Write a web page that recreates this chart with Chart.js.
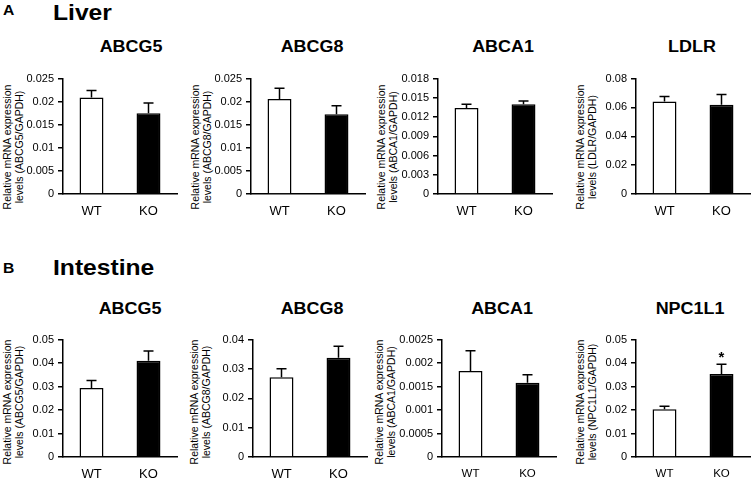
<!DOCTYPE html>
<html>
<head>
<meta charset="utf-8">
<script src="https://cdn.jsdelivr.net/npm/chart.js@4.4.0/dist/chart.umd.min.js"></script>
<style>
    body { margin: 0; background: #fff; font-family: "Liberation Sans", Arial, sans-serif; color: #000; }
    #wrap { position: relative; width: 752px; height: 480px; overflow: hidden; }
    .lbl { position: absolute; font-weight: bold; line-height: 1; white-space: nowrap; transform-origin: left center; transform: scaleX(1.12); }
    .gene { position: absolute; font-weight: bold; font-size: 16px; line-height: 1; white-space: nowrap; transform: translateX(-50%) scaleX(1.12); }
    .ytitle { position: absolute; width: 160px; font-size: 10.5px; line-height: 12px; text-align: center; white-space: nowrap; transform: rotate(-90deg); }
    canvas { position: absolute; }
</style>
</head>
<body>
<div id="wrap">
    <div class="lbl" style="left:3px; top:3px; font-size:14px;">A</div>
    <div class="lbl" style="left:53px; top:2px; font-size:22px;">Liver</div>
    <div class="lbl" style="left:3px; top:261px; font-size:14px;">B</div>
    <div class="lbl" style="left:53px; top:257px; font-size:22px;">Intestine</div>
</div>

<script>
/*********************** Data ************************/
var categories = ['WT', 'KO'];

// A - Liver
var liverGenes = ['ABCG5', 'ABCG8', 'ABCA1', 'LDLR'];
var liverWT = [0.0209, 0.0206, 0.0134, 0.0642];
var liverWTErr = [0.0015, 0.0023, 0.0006, 0.0034];
var liverKO = [0.0175, 0.0173, 0.0140, 0.0619];
var liverKOErr = [0.0022, 0.0018, 0.0005, 0.0071];
var liverMax = [0.025, 0.025, 0.018, 0.08];
var liverStep = [0.005, 0.005, 0.003, 0.02];
var liverSig = ['', '', '', ''];

// B - Intestine
var intGenes = ['ABCG5', 'ABCG8', 'ABCA1', 'NPC1L1'];
var intWT = [0.0294, 0.0272, 0.00183, 0.0203];
var intWTErr = [0.0032, 0.0029, 0.00043, 0.0013];
var intKO = [0.0410, 0.0338, 0.00158, 0.0353];
var intKOErr = [0.0041, 0.0039, 0.00017, 0.0042];
var intMax = [0.05, 0.04, 0.0025, 0.05];
var intStep = [0.01, 0.01, 0.0005, 0.01];
var intSig = ['', '', '', '*'];

/*********************** Layout ************************/
var rows = [
    { chartTop: 76, chartH: 118, titleTop: 39, yTitleY: 147,
      axisX: [63, 251, 438, 636], titleX: [131, 312, 503, 692],
      yTitleOff: [50, 50, 51, 50], xFont: [13, 13, 13, 13] },
    { chartTop: 337, chartH: 120, titleTop: 301, yTitleY: 402,
      axisX: [63, 253, 442, 636], titleX: [130, 312, 502, 690],
      yTitleOff: [50, 53, 57, 50], xFont: [13, 13, 11.5, 11.5] }
];
var yAxisW = 45, plotW = 114, padTop = 8, xAxisH = 30;

Chart.defaults.font.family = '"Liberation Sans", Arial, sans-serif';
Chart.defaults.color = '#000';

// error bars (upper only) + significance mark
var errorBars = {
    id: 'errorBars',
    afterDatasetsDraw: function (chart) {
        var ctx = chart.ctx;
        var ds = chart.data.datasets[0];
        var meta = chart.getDatasetMeta(0);
        var y = chart.scales.y;
        ctx.save();
        ctx.strokeStyle = '#000';
        ctx.lineWidth = 1.5;
        meta.data.forEach(function (bar, i) {
            var top = y.getPixelForValue(ds.data[i] + ds.err[i]);
            ctx.beginPath();
            ctx.moveTo(bar.x, bar.y);
            ctx.lineTo(bar.x, top);
            ctx.moveTo(bar.x - 5, top);
            ctx.lineTo(bar.x + 5, top);
            ctx.stroke();
            if (ds.sig[i]) {
                ctx.fillStyle = '#000';
                ctx.font = 'bold 15px "Liberation Sans", Arial, sans-serif';
                ctx.textAlign = 'center';
                ctx.textBaseline = 'alphabetic';
                ctx.fillText(ds.sig[i], bar.x, top - 2);
            }
        });
        ctx.restore();
    }
};

function makePanel(row, i, gene, wt, wtErr, ko, koErr, max, step, sig) {
    var wrap = document.getElementById('wrap');
    var ax = row.axisX[i];

    var title = document.createElement('div');
    title.className = 'gene';
    title.style.left = row.titleX[i] + 'px';
    title.style.top = row.titleTop + 'px';
    title.textContent = gene;
    wrap.appendChild(title);

    var yt = document.createElement('div');
    yt.className = 'ytitle';
    yt.style.left = (ax - row.yTitleOff[i] - 80) + 'px';
    yt.style.top = (row.yTitleY - 12) + 'px';
    yt.innerHTML = 'Relative mRNA expression<br>levels (' + gene + '/GAPDH)';
    wrap.appendChild(yt);

    var canvas = document.createElement('canvas');
    canvas.width = yAxisW + plotW + 2;
    canvas.height = padTop + row.chartH + xAxisH;
    canvas.style.left = (ax - yAxisW) + 'px';
    canvas.style.top = (row.chartTop - padTop) + 'px';
    wrap.appendChild(canvas);

    new Chart(canvas, {
        type: 'bar',
        data: {
            labels: categories,
            datasets: [{
                data: [wt, ko],
                err: [wtErr, koErr],
                sig: ['', sig],
                backgroundColor: ['#fff', '#000'],
                borderColor: '#000',
                borderWidth: 1.5,
                barPercentage: 0.42,
                categoryPercentage: 1
            }]
        },
        options: {
            responsive: false,
            animation: false,
            layout: { padding: { top: padTop, right: 2, bottom: 0, left: 0 } },
            plugins: {
                legend: { display: false },
                tooltip: { enabled: false }
            },
            scales: {
                x: {
                    grid: { drawOnChartArea: false, drawTicks: false },
                    border: { color: '#000', width: 1.5 },
                    ticks: { color: '#000', font: { size: row.xFont[i] }, padding: 10 },
                    afterFit: function (s) { s.height = xAxisH; }
                },
                y: {
                    min: 0,
                    max: max,
                    ticks: {
                        stepSize: step,
                        color: '#000',
                        font: { size: 11 },
                        padding: 4,
                        callback: function (v) { return String(+v.toFixed(6)); }
                    },
                    grid: { drawOnChartArea: false, drawTicks: true, tickLength: 5, color: '#000', lineWidth: 1.5 },
                    border: { color: '#000', width: 1.5 },
                    afterFit: function (s) { s.width = yAxisW; }
                }
            }
        },
        plugins: [errorBars]
    });
}

for (var i = 0; i < 4; i++) {
    makePanel(rows[0], i, liverGenes[i], liverWT[i], liverWTErr[i], liverKO[i], liverKOErr[i], liverMax[i], liverStep[i], liverSig[i]);
    makePanel(rows[1], i, intGenes[i], intWT[i], intWTErr[i], intKO[i], intKOErr[i], intMax[i], intStep[i], intSig[i]);
}
</script>
</body>
</html>
